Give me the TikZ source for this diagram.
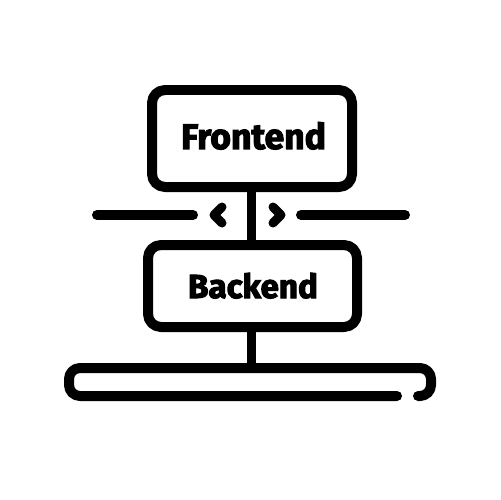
\documentclass[tikz,border=0pt]{standalone}
\usepackage{fontspec}
\newfontfamily\lblfont[BoldFeatures={FakeBold=3}]{Fira Sans}
\begin{document}
\begin{tikzpicture}[x=0.02cm,y=-0.02cm,
  stroke/.style={line width=0.2cm, line cap=round, line join=round, black},
  thin/.style={line width=0.18cm, line cap=round, line join=round, black},
  box/.style={stroke, rounded corners=0.26cm},
  lbl/.style={inner sep=0pt, anchor=base, font=\lblfont\bfseries}]
\useasboundingbox[fill=white] (0,0) rectangle (500,500);
% boxes
\draw[box] (152,90) rectangle (352,187);
\draw[box] (148,245) rectangle (357,327);
\node[lbl] (fe) at (253.5,149) {\resizebox{2.9cm}{!}{Frontend}};
\node[lbl] (be) at (253,298) {\resizebox{2.6cm}{!}{Backend}};
\coordinate (feb) at (251,187);
\coordinate (bet) at (251,245);
\coordinate (beb) at (251,327);
\coordinate (bst) at (251,368);
\draw[thin] (feb) -- (bet);
\draw[thin] (beb) -- (bst);
% side lines
\coordinate (l1) at (97,215); \coordinate (l2) at (193,215);
\coordinate (r1) at (301,215); \coordinate (r2) at (405,215);
\draw[stroke] (l1) -- (l2);
\draw[stroke] (r1) -- (r2);
% chevrons
\draw[thin] (222,207) -- (214,215) -- (222,223);
\draw[thin] (273,207) -- (281,215) -- (273,223);
% base
\draw[stroke, rounded corners=0.22cm] (397,396) -- (69,396) -- (69,368) -- (431,368) -- (431,396) -- (418,396);
\end{tikzpicture}
\end{document}
